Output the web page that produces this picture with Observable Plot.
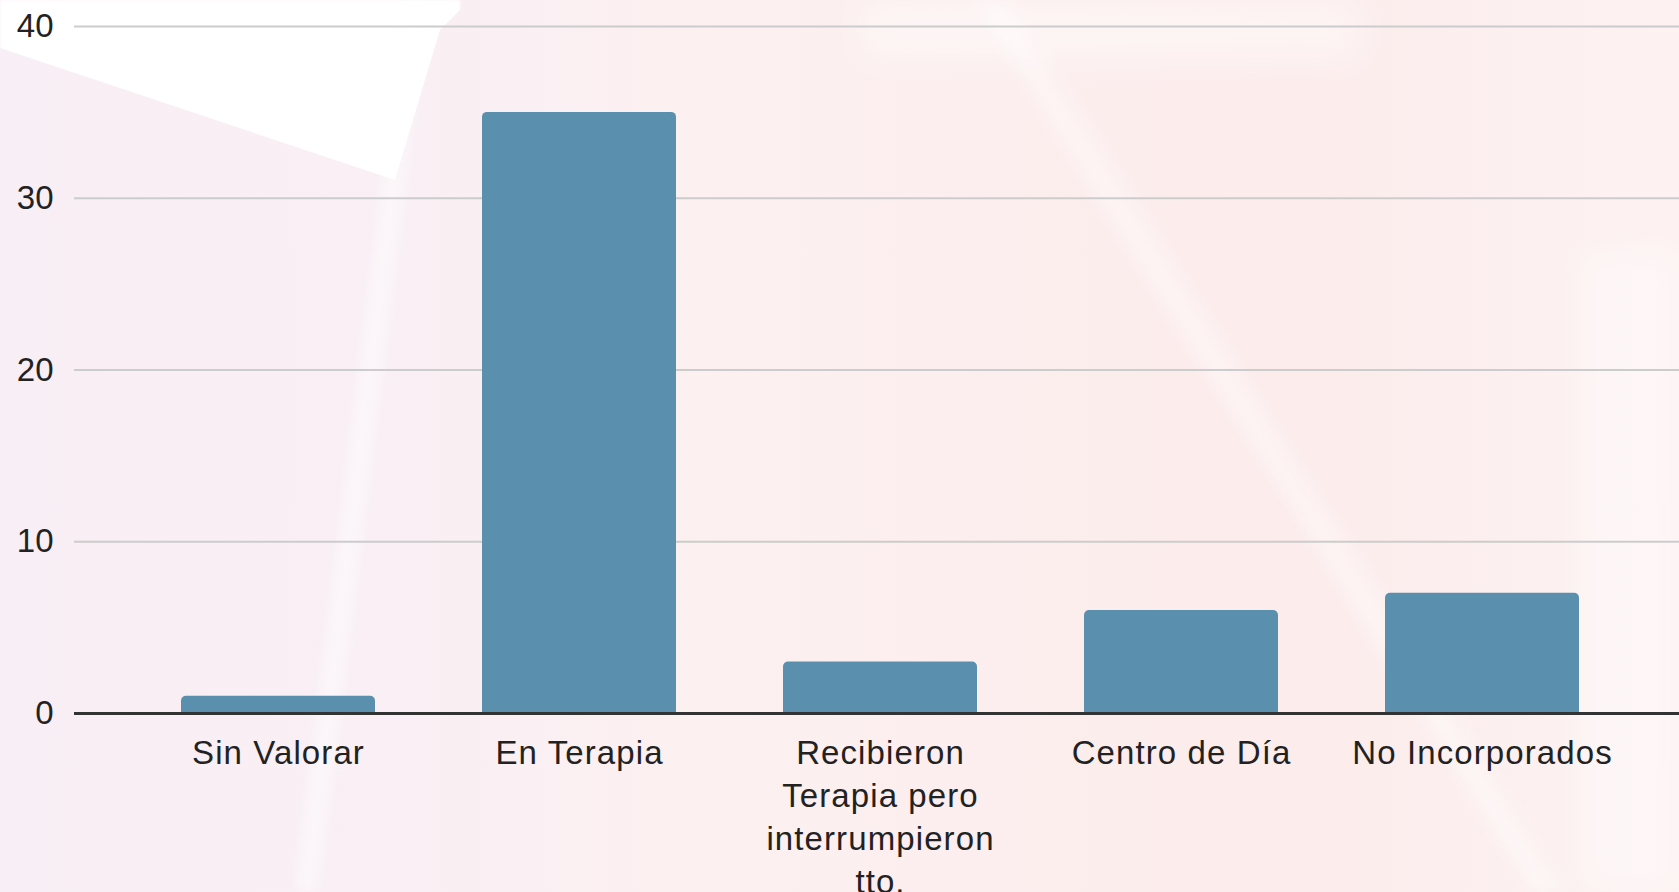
<!DOCTYPE html>
<html>
<head>
<meta charset="utf-8">
<script src="https://cdn.jsdelivr.net/npm/d3@7"></script>
<script src="https://cdn.jsdelivr.net/npm/@observablehq/plot@0.6"></script>
<style>
  html, body { margin: 0; padding: 0; width: 1679px; height: 892px; overflow: hidden; }
  body { position: relative; background: #fbeff1; font-family: "Liberation Sans", Arial, sans-serif; }
  .wm { position: absolute; pointer-events: none; }
  #wm1 { left: 0; top: 0; width: 1679px; height: 892px;
         background: linear-gradient(90deg, #f8eef5 0px, #f9eff4 420px, #fcf0f0 700px, #fcecec 1300px, #fdf2f2 1679px); }
  #wm2 { left: 0; top: 0; width: 460px; height: 300px; background: #ffffff;
         clip-path: polygon(0 0, 470px 0, 440px 30px, 395px 180px, 0 48px); filter: blur(1px); }
  #wm3 { left: 0; top: 0; width: 1679px; height: 892px;
         background:
           linear-gradient(97deg, transparent 0, transparent 395px, rgba(255,255,255,0.6) 412px, transparent 432px),
           linear-gradient(58deg, transparent 0, transparent 1290px, rgba(255,255,255,0.45) 1310px, transparent 1340px);
         filter: blur(6px); }
  #wm4 { left: 860px; top: 0; width: 500px; height: 60px; background: rgba(255,255,255,0.45); filter: blur(18px); }
  #wm5 { left: 1580px; top: 250px; width: 99px; height: 642px; background: rgba(255,255,255,0.4); filter: blur(16px); }
  #chart { position: absolute; left: 0; top: 0; }
  g[aria-label="x-axis tick label"] text { letter-spacing: 1.1px; }
</style>
</head>
<body>
<div class="wm" id="wm1"></div>
<div class="wm" id="wm2"></div>
<div class="wm" id="wm3"></div>
<div class="wm" id="wm4"></div>
<div class="wm" id="wm5"></div>
<div id="chart"></div>
<script>
const categories = ["Sin Valorar", "En Terapia", "Recibieron Terapia pero interrumpieron tto.", "Centro de Día", "No Incorporados"];
const values = [1, 35, 3, 6, 7];
const tickLabels = ["Sin Valorar", "En Terapia", "Recibieron\nTerapia pero\ninterrumpieron\ntto.", "Centro de Día", "No Incorporados"];
const yTicks = [0, 10, 20, 30, 40];

const data = categories.map((c, i) => ({category: c, value: values[i]}));
const labelOf = new Map(categories.map((c, i) => [c, tickLabels[i]]));

const chart = Plot.plot({
  width: 1679,
  height: 892,
  marginLeft: 74,
  marginRight: 0,
  marginTop: 26,
  marginBottom: 179,
  style: {background: "transparent", fontFamily: "'Liberation Sans', Arial, sans-serif", color: "#222", overflow: "visible"},
  x: {domain: categories, paddingInner: 0.356, paddingOuter: 0.342, align: 0.515, label: null},
  y: {domain: [0, 40], label: null},
  marks: [
    Plot.gridY(yTicks, {stroke: "#cccccc", strokeOpacity: 1, strokeWidth: 2}),
    Plot.barY(data, {x: "category", y: "value", fill: "#5a90ae", rx: 5, insetBottom: -8, clip: "frame"}),
    Plot.ruleY([0], {stroke: "#333333", strokeWidth: 3}),
    Plot.axisY(yTicks, {tickSize: 0, tickPadding: 21, fontSize: 33, label: null, fill: "#222"}),
    Plot.axisX({tickSize: 0, tickPadding: 20, fontSize: 33, lineHeight: 1.3, label: null, fill: "#222",
                tickFormat: (d) => labelOf.get(d)})
  ]
});
document.getElementById("chart").appendChild(chart);
</script>
</body>
</html>
